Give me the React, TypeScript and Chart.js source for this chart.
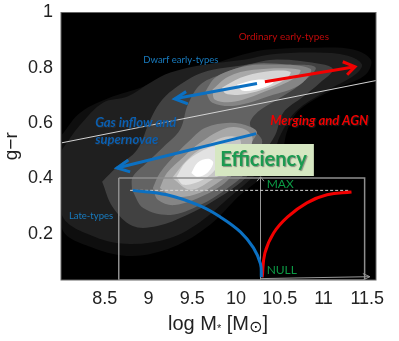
import React, { useEffect, useRef } from "react";
import { Chart, registerables } from "chart.js";

Chart.register(...registerables);

type P = [number, number];

const xTicks = [8.5, 9, 9.5, 10, 10.5, 11, 11.5];
const yTicks = [0.2, 0.4, 0.6, 0.8, 1];

// Density contours, outermost first
const contourA: P[] = [[8.01,.558],[8.22,.638],[8.59,.696],[8.94,.732],[9.21,.775],[9.59,.801],[9.82,.822],[10.08,.848],[10.36,.866],[10.93,.873],[11.34,.866],[11.54,.83],[11.51,.786],[11.39,.757],[11.11,.721],[10.73,.649],[10.59,.576],[10.51,.478],[10.33,.413],[10.05,.341],[9.7,.232],[9.28,.152],[8.82,.12],[8.37,.149],[8.01,.221]];
const contourB: P[] = [[8.01,.504],[8.22,.594],[8.48,.674],[8.76,.696],[9.02,.746],[9.25,.783],[9.65,.812],[10.11,.83],[10.39,.848],[10.91,.855],[11.28,.844],[11.44,.812],[11.36,.775],[11.02,.714],[10.68,.641],[10.51,.558],[10.41,.478],[10.22,.413],[9.93,.333],[9.59,.243],[9.25,.185],[8.79,.163],[8.39,.188],[8.01,.268]];
const contourC: P[] = [[8.47,.388],[8.64,.442],[8.87,.504],[9.02,.612],[9.13,.674],[9.28,.721],[9.62,.783],[10.13,.812],[10.47,.83],[11,.812],[11.11,.793],[10.96,.746],[10.77,.696],[10.54,.638],[10.45,.558],[10.3,.486],[10.11,.402],[9.76,.322],[9.44,.268],[9.1,.228],[8.82,.228],[8.59,.297]];
const contourD: P[] = [[8.81,.359],[8.82,.406],[8.98,.457],[9.17,.514],[9.36,.576],[9.45,.667],[9.59,.739],[9.82,.775],[10.2,.815],[10.59,.812],[10.91,.801],[10.73,.739],[10.47,.685],[10.25,.641],[10.16,.594],[10.3,.533],[10.14,.431],[9.88,.359],[9.59,.304],[9.25,.268],[8.94,.293]];
const contourEUpper: P[] = [[9.65,.714],[9.76,.764],[9.99,.797],[10.28,.812],[10.85,.797],[10.73,.739],[10.39,.699],[9.99,.663],[9.73,.674]];
const contourELower: P[] = [[9.05,.366],[9.13,.42],[9.33,.493],[9.48,.54],[9.65,.583],[9.93,.601],[10.16,.587],[10.24,.565],[10.11,.504],[9.93,.402],[9.65,.341],[9.3,.304],[9.11,.322]];
const contourFUpper: P[] = [[9.73,.721],[9.91,.768],[10.2,.793],[10.73,.793],[10.68,.764],[10.33,.714],[9.99,.678],[9.76,.685]];
const contourFLower: P[] = [[9.13,.366],[9.21,.42],[9.4,.478],[9.59,.529],[9.9,.583],[10.11,.576],[10.19,.54],[10.05,.449],[9.84,.395],[9.59,.348],[9.3,.333]];
const contourGUpper: P[] = [[9.84,.728],[10.05,.764],[10.33,.786],[10.62,.786],[10.56,.757],[10.3,.721],[10.05,.703],[9.88,.707]];
const contourGLower: P[] = [[9.27,.402],[9.44,.467],[9.62,.511],[9.88,.551],[10.05,.54],[9.99,.449],[9.76,.402],[9.48,.359]];
const contourHUpper: P[] = [[10.01,.739],[10.24,.757],[10.43,.75],[10.31,.728],[10.08,.717]];
const contourHLower: P[] = [[9.32,.406],[9.42,.457],[9.59,.496],[9.78,.514],[9.78,.442],[9.62,.395],[9.4,.377]];
const contourILower: P[] = [[9.49,.42],[9.56,.457],[9.68,.471],[9.74,.457],[9.67,.42],[9.56,.406]];

// Overlay lines
const dividerLine: P[] = [[8.01,.529],[11.6,.754]];
const blueArrowUpper: P[] = [[10.24,.743],[9.3,.688]];
const blueArrowUpperHead: P[] = [[9.43,.714],[9.3,.688],[9.45,.67]];
const redArrow: P[] = [[10.33,.75],[11.36,.804]];
const redArrowHead: P[] = [[11.22,.822],[11.36,.804],[11.27,.775]];
const blueArrowLower: P[] = [[10.23,.562],[8.64,.438]];
const blueArrowLowerHead: P[] = [[8.77,.467],[8.64,.438],[8.79,.424]];
const insetBox: P[] = [[8.66,.402],[11.47,.402],[11.47,.033],[8.66,.033],[8.66,.402]];
const insetYAxis: P[] = [[10.28,.033],[10.28,.406]];
const insetYAxisHead: P[] = [[10.24,.39],[10.28,.406],[10.32,.39]];
const insetXAxis: P[] = [[10.28,.038],[11.53,.045]];
const insetXAxisHead: P[] = [[11.45,.056],[11.53,.045],[11.45,.033]];
const maxLevel: P[] = [[8.79,.357],[11.3,.357]];
const blueCurve: P[] = [[8.82,.357],[9.21,.341],[9.59,.301],[9.82,.261],[10.05,.207],[10.2,.149],[10.28,.091],[10.29,.043]];
const redCurve: P[] = [[10.3,.043],[10.33,.13],[10.43,.203],[10.59,.261],[10.81,.312],[11.04,.341],[11.32,.351]];
const efficiencyPanel: P[] = [[9.76,.525],[10.89,.525],[10.89,.409],[9.76,.409],[9.76,.525]];

const blue = "#0b70c2";
const red = "#f20000";

const pts = (a: P[]) => a.map(([x, y]) => ({ x, y }));

const poly = (a: P[], color: string) => ({
  data: pts([...a, a[0]]),
  fill: "shape",
  backgroundColor: color,
  borderWidth: 0,
  borderColor: color,
  tension: 0.35,
  pointRadius: 0,
});

const line = (a: P[], color: string, width: number, extra: object = {}) => ({
  data: pts(a),
  fill: false,
  borderColor: color,
  borderWidth: width,
  pointRadius: 0,
  tension: 0,
  ...extra,
});

type Note = { text: string; x: number; y: number; font: string; color: string; shadow?: boolean };
const notes: Note[] = [
  { text: "Ordinary early-types", x: 10.03, y: 0.913, font: "10px Lato", color: "#c00a0a" },
  { text: "Dwarf early-types", x: 8.94, y: 0.83, font: "9.5px Lato", color: "#187cc0" },
  { text: "Gas inflow and", x: 8.39, y: 0.601, font: "italic bold 13px Lato", color: "#0b5fb0", shadow: true },
  { text: "supernovae", x: 8.39, y: 0.54, font: "italic bold 13px Lato", color: "#0b5fb0", shadow: true },
  { text: "Merging and AGN", x: 10.39, y: 0.609, font: "italic bold 13px Lato", color: "#f00000", shadow: true },
  { text: "Late-types", x: 8.09, y: 0.264, font: "9.5px Lato", color: "#187cc0" },
  { text: "MAX", x: 10.35, y: 0.38, font: "12px Lato", color: "#0c9a45" },
  { text: "NULL", x: 10.35, y: 0.069, font: "12px Lato", color: "#0c9a45" },
  { text: "Efficiency", x: 9.82, y: 0.467, font: "bold 20px Lato", color: "#1b9a50", shadow: true },
];

const overlayPlugin = {
  id: "overlay",
  beforeDraw(chart: any) {
    const { ctx, chartArea: a } = chart;
    ctx.save();
    ctx.fillStyle = "#000";
    ctx.fillRect(a.left, a.top, a.right - a.left, a.bottom - a.top);
    ctx.restore();
  },
  afterDraw(chart: any) {
    const { ctx, chartArea: a, scales } = chart;
    ctx.save();
    ctx.strokeStyle = "#666";
    ctx.lineWidth = 1;
    ctx.strokeRect(a.left, a.top, a.right - a.left, a.bottom - a.top);
    ctx.textBaseline = "middle";
    ctx.textAlign = "left";
    for (const n of notes) {
      ctx.font = n.font;
      ctx.fillStyle = n.color;
      if (n.shadow) {
        ctx.shadowColor = "rgba(60,60,60,0.5)";
        ctx.shadowBlur = 1;
        ctx.shadowOffsetX = 1;
        ctx.shadowOffsetY = 1;
      } else {
        ctx.shadowColor = "transparent";
        ctx.shadowBlur = 0;
        ctx.shadowOffsetX = 0;
        ctx.shadowOffsetY = 0;
      }
      ctx.fillText(n.text, scales.x.getPixelForValue(n.x), scales.y.getPixelForValue(n.y));
    }
    ctx.shadowColor = "transparent";
    ctx.shadowBlur = 0;
    ctx.shadowOffsetX = 0;
    ctx.shadowOffsetY = 0;

    // x-axis title with its small marks
    const big = '20px "Liberation Sans"';
    const small = '11px "Liberation Sans"';
    const sub = '16px "DejaVu Sans"';
    const parts: [string, string, number][] = [
      ["log M", big, 0],
      ["*", small, 5],
      [" [M", big, 0],
      ["\u2299", sub, 4],
      ["]", big, 0],
    ];
    let w = 0;
    for (const [t, f] of parts) {
      ctx.font = f;
      w += ctx.measureText(t).width;
    }
    let px = 218 - w / 2;
    ctx.fillStyle = "#222";
    for (const [t, f, dy] of parts) {
      ctx.font = f;
      ctx.fillText(t, px, 324 + dy);
      px += ctx.measureText(t).width;
    }
    ctx.restore();
  },
};

export default function App() {
  const ref = useRef<HTMLCanvasElement>(null);
  useEffect(() => {
    document.body.style.margin = "0";
    const chart = new Chart(ref.current!, {
      type: "line",
      plugins: [overlayPlugin],
      data: {
        datasets: [
          line(blueArrowUpper, blue, 3),
          line(blueArrowUpperHead, blue, 3),
          line(redArrow, red, 3),
          line(redArrowHead, red, 3),
          line(blueArrowLower, blue, 3),
          line(blueArrowLowerHead, blue, 3),
          line(blueCurve, blue, 3, { tension: 0.4 }),
          line(redCurve, red, 3, { tension: 0.4 }),
          line(maxLevel, "#d8d8d8", 1, { borderDash: [3, 2] }),
          line(insetYAxisHead, "#999", 1),
          line(insetYAxis, "#999", 1),
          line(insetXAxisHead, "#999", 1),
          line(insetXAxis, "#999", 1),
          line(insetBox, "#8e8e8e", 1.5),
          { ...poly(efficiencyPanel, "#d6e7c2"), tension: 0 },
          line(dividerLine, "#d4d4d4", 1),
          poly(contourILower, "#ffffff"),
          poly(contourHUpper, "#ffffff"),
          poly(contourHLower, "#e2e2e2"),
          poly(contourGLower, "#c6c6c6"),
          poly(contourGUpper, "#d6d6d6"),
          poly(contourFLower, "#a8a8a8"),
          poly(contourFUpper, "#a8a8a8"),
          poly(contourELower, "#858585"),
          poly(contourEUpper, "#858585"),
          poly(contourD, "#636363"),
          poly(contourC, "#414141"),
          poly(contourB, "#1f1f1f"),
          poly(contourA, "#0e0e0e"),
        ] as any,
      },
      options: {
        responsive: false,
        animation: false,
        parsing: { xAxisKey: "x", yAxisKey: "y" },
        layout: { padding: { left: 0, top: 12.5, right: 23, bottom: 0 } },
        plugins: { legend: { display: false }, tooltip: { enabled: false } },
        scales: {
          x: {
            type: "linear",
            min: 8,
            max: 11.6,
            grid: { display: false, drawTicks: false },
            border: { display: false },
            afterBuildTicks: (s: any) => {
              s.ticks = xTicks.map((value) => ({ value }));
            },
            afterFit: (s: any) => {
              s.height = 61;
              s.paddingLeft = 0;
              s.paddingRight = 0;
            },
            ticks: {
              autoSkip: false,
              maxRotation: 0,
              padding: 8,
              color: "#222",
              font: { family: "Liberation Sans", size: 18 },
              callback: (v: any) => String(v),
            },
          },
          y: {
            type: "linear",
            min: 0.033,
            max: 1,
            grid: { display: false, drawTicks: false },
            border: { display: false },
            title: {
              display: true,
              text: "g\u2212r",
              color: "#222",
              font: { family: "Liberation Sans", size: 19 },
              padding: { top: 0, bottom: 0 },
            },
            afterBuildTicks: (s: any) => {
              s.ticks = yTicks.map((value) => ({ value }));
            },
            afterFit: (s: any) => {
              s.width = 61;
              s.paddingTop = 0;
              s.paddingBottom = 0;
            },
            ticks: {
              autoSkip: false,
              padding: 8,
              color: "#222",
              font: { family: "Liberation Sans", size: 18 },
              callback: (v: any) => String(v),
            },
          },
        },
      } as any,
    });
    return () => chart.destroy();
  }, []);
  return <canvas ref={ref} width={399} height={341} style={{ display: "block", filter: "blur(0.35px)" }} />;
}
